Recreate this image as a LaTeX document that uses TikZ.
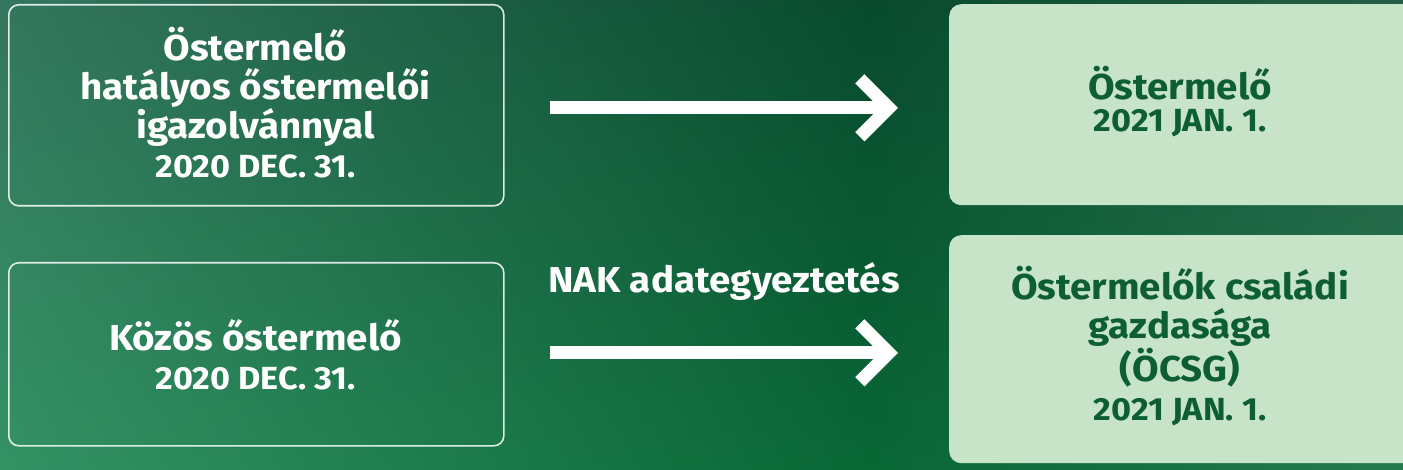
\documentclass[tikz,border=0pt]{standalone}
\usepackage{fontspec}
\setmainfont{Fira Sans}[FakeStretch=1.07]
\usetikzlibrary{arrows.meta}
\definecolor{lightbox}{HTML}{C8E4C8}
\definecolor{darktext}{HTML}{0D5E34}
\pgfdeclarehorizontalshading{bggrad}{100bp}{rgb(0bp)=(0.24,0.54,0.43); rgb(25bp)=(0.24,0.54,0.43); rgb(56bp)=(0.04,0.34,0.21); rgb(75bp)=(0.17,0.43,0.33); rgb(100bp)=(0.17,0.43,0.33)}
\begin{document}
\begin{tikzpicture}[x=1pt,y=-1pt,
  darkbox/.style={draw=white, draw opacity=0.85, line width=1.6pt, rounded corners=10pt, inner sep=0pt, anchor=north west},
  lightboxst/.style={fill=lightbox, rounded corners=12pt, inner sep=0pt, anchor=north west},
  whitetext/.style={text=white, align=center, font=\fontsize{36}{39}\selectfont\bfseries},
  greentext/.style={text=darktext, align=center, font=\fontsize{36}{39}\selectfont\bfseries},
  bigarrow/.style={draw=white, line width=13pt, shorten <=45pt, shorten >=51pt,
    -{Straight Barb[length=29pt, width=58pt, line cap=butt, line join=miter]}}
]
\useasboundingbox (0,0) rectangle (1403,470);
\begin{scope}
\clip (0,0) rectangle (1403,470);
\shade[shading=bggrad] (0,0) rectangle (1403,470);
\shade[top color=black, bottom color=green!60!teal, opacity=0.14] (0,0) rectangle (1403,470);

\node[darkbox, minimum width=495pt, minimum height=201pt] (b1) at (8,4) {};
\node[darkbox, minimum width=495pt, minimum height=183pt] (b2) at (8,262) {};
\node[lightboxst, minimum width=470pt, minimum height=201pt] (b3) at (949,4) {};
\node[lightboxst, minimum width=470pt, minimum height=228pt] (b4) at (949,235) {};
\end{scope}

\node[whitetext] (t1) at (255.5,103) {Östermelő\\ hatályos őstermelői\\ igazolvánnyal\\ {\fontsize{32}{39}\selectfont 2020 DEC. 31.}};
\node[whitetext] (t2) at (255.5,355) {Közös őstermelő\\ {\fontsize{32}{39}\selectfont 2020 DEC. 31.}};
\node[greentext] (t3) at (1180,102) {Östermelő\\[-7pt] {\fontsize{32}{39}\selectfont 2021 JAN. 1.}};
\node[greentext] (t4) at (1180,346) {Östermelők családi\\ gazdasága\\ (ÖCSG)\\ {\fontsize{32}{39}\selectfont 2021 JAN. 1.}};

\draw[bigarrow] ([yshift=-2.5pt]b1.east) -- ([yshift=-2.5pt]b1.east -| b3.west);
\draw[bigarrow] ([yshift=1.5pt]b2.east) -- ([yshift=1.5pt]b2.east -| b4.west);
\node[text=white, font=\fontsize{36}{39}\selectfont\bfseries, anchor=base] (nak) at (724,293) {NAK adategyeztetés};
\end{tikzpicture}
\end{document}
